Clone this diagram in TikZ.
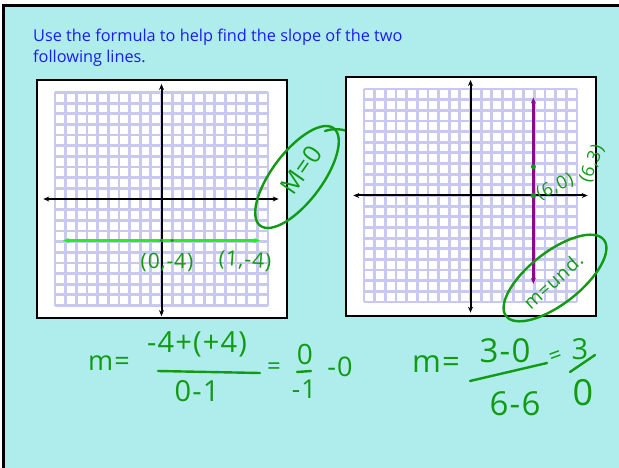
\documentclass[tikz,border=0pt]{standalone}
\usepackage{fontspec}
\setmainfont{Open Sans}
\newfontfamily\inkfont[LetterSpace=4]{Open Sans}
\usetikzlibrary{arrows.meta}
\definecolor{slidebg}{HTML}{AFECEC}
\definecolor{titleblue}{HTML}{1C1CF0}
\definecolor{inkgreen}{HTML}{129A12}
\definecolor{gridlav}{HTML}{C8C8F0}
\definecolor{linegreen}{HTML}{22F022}
\definecolor{linepurple}{HTML}{8A0A8A}
\newcommand{\inksize}[1]{\inkfont\fontsize{#1}{#1}\selectfont}

\begin{document}
\begin{tikzpicture}[x=1pt, y=-1pt,
				>={Stealth[length=6pt, width=5pt]},
				frame/.style={draw=black, line width=2.2pt, fill=white},
				gridline/.style={draw=gridlav, line width=2.8pt},
				axisline/.style={<->, draw=black, line width=2pt},
				ink/.style={text=inkgreen, inner sep=0pt},
				inkline/.style={draw=inkgreen, line width=2.4pt, line cap=round},
				title/.style={text=titleblue, inner sep=0pt, anchor=base west,
					font=\fontsize{16.3}{21}\selectfont}
				]
				\useasboundingbox (0,0) rectangle (619,468);
				%--- slide -----------------------------------------------------------------
				\fill[white] (0,0) rectangle (619,468);
				\fill[slidebg] (3,6) rectangle (619,468);
				\draw[line width=3pt] (3,468) -- (3,6) -- (619,6);
				
				\node[title] (title1) at (33,42) {Use the formula to help find the slope of the two};
				\node[title] (title2) at (33,63) {following lines.};
				
				%--- left graph: horizontal line ------------------------------------------
				\draw[frame] (37,80) rectangle (287,318);
				\begin{scope}[shift={(161.5,199)}, x=10.65pt, y=10.65pt]
					\draw[gridline, step=1] (-10,-10) grid (10,10);
					\draw[axisline] (-11.1,0) -- (11,0);
					\draw[axisline] (0,-11) -- (0,10.8);
					\draw[<->, draw=linegreen, line width=2.4pt] (-9.25,-3.9) -- (9.25,-3.9);
					\fill[inkgreen] (0,-3.9) circle (1.8pt);
					\fill[inkgreen] (1,-3.9) circle (1.8pt);
				\end{scope}
				\node[ink, font=\inksize{21}] (ptA) at (167,263) {(0,-4)};
				\node[ink, font=\inksize{21}, rotate=-4] (ptB) at (245,261) {(1,-4)};
				
				\draw[inkline] (297,177) ellipse [x radius=61pt, y radius=25pt, rotate=53];
				\draw[inkline] (325,131) .. controls (334,128) and (342,129) .. (350,132);
				\node[ink, font=\inksize{25}, rotate=55] (slopeL) at (301,170) {M=0};
				
				%--- right graph: vertical line -------------------------------------------
				\draw[frame] (346,77) rectangle (596,316);
				\begin{scope}[shift={(470.5,195.5)}, x=10.65pt, y=10.65pt]
					\draw[gridline, step=1] (-10,-10) grid (10,10);
					\draw[axisline] (-11,0) -- (11,0);
					\draw[axisline] (0,-11) -- (0,10.85);
					\draw[<->, draw=linepurple, line width=2.4pt] (5.9,-8.3) -- (5.9,9.2);
					\fill[inkgreen] (5.9,0) circle (2.8pt);
					\fill[inkgreen] (5.9,2.7) circle (2.5pt);
				\end{scope}
				\node[ink, font=\inksize{18}, rotate=25] (ptC) at (555,187) {(6,0)};
				\node[ink, font=\inksize{18}, rotate=68] (ptD) at (592,164) {(6,3)};
				
				\draw[inkline] (555,278) ellipse [x radius=62pt, y radius=26pt, rotate=38];
				\node[ink, font=\inksize{19}, rotate=42] (slopeR) at (553,281) {m=und.};
				
				%--- left formula ----------------------------------------------------------
				\node[ink, font=\inksize{27}] (mL) at (109,363) {m=};
				\node[ink, font=\inksize{29}] (numL) at (197,344) {-4+(+4)};
				\draw[inkline] (158,371) -- (260,373);
				\node[ink, font=\inksize{29}] (denL) at (197,391) {0-1};
				\node[ink, font=\inksize{24}] (eqL) at (274,369) {=};
				\node[ink, font=\inksize{28}] (numL2) at (305,354) {0};
				\draw[inkline] (297,372) -- (311,371);
				\node[ink, font=\inksize{26}] (denL2) at (304,389) {-1};
				\node[ink, font=\inksize{27}] (resL) at (340,367) {-0};
				
				%--- right formula ---------------------------------------------------------
				\node[ink, font=\inksize{31}] (mR) at (436,364) {m=};
				\node[ink, font=\inksize{33}] (numR) at (505,351) {3-0};
				\draw[inkline] (470,381) -- (547,363);
				\node[ink, font=\inksize{33}] (denR) at (515,404) {6-6};
				\node[ink, font=\inksize{22}, rotate=20] (eqR) at (556,357) {=};
				\node[ink, font=\inksize{29}] (numR2) at (580,349) {3};
				\draw[inkline] (570,372) -- (595,355);
				\node[ink, font=\inksize{36}] (denR2) at (583,393) {0};
			\end{tikzpicture}
\end{document}
